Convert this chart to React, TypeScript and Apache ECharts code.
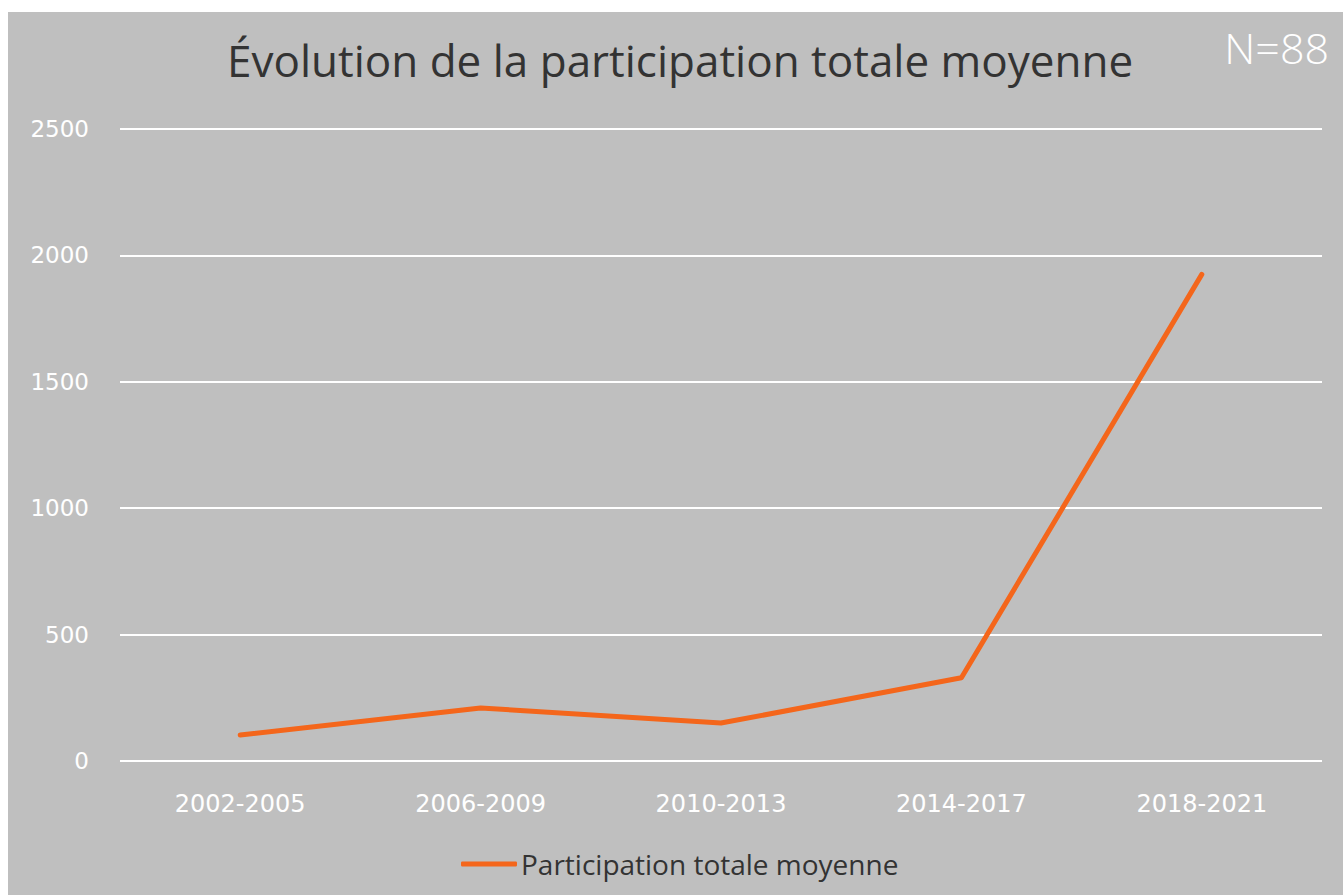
import React, { useEffect, useRef } from "react";
import * as echarts from "echarts";

const categories = ["2002-2005", "2006-2009", "2010-2013", "2014-2017", "2018-2021"];
const participation = [103, 210, 150, 329, 1925];
const seriesName = "Participation totale moyenne";
const titleText = "Évolution de la participation totale moyenne";
const noteText = "N=88";

export default function App() {
  const ref = useRef<HTMLDivElement>(null);
  useEffect(() => {
    if (!ref.current) return;
    const chart = echarts.init(ref.current, null, { renderer: "svg" });
    chart.setOption({
      animation: false,
      backgroundColor: "#bfbfbf",
      title: {
        text: titleText,
        left: 214,
        top: 21,
        textStyle: { fontFamily: "Open Sans", fontSize: 44, fontWeight: "normal", color: "#333333" },
      },
      graphic: [
        {
          type: "text",
          right: 14,
          top: 14,
          style: { text: noteText, fontFamily: "Open Sans", fontSize: 43, fontWeight: 300, fill: "#ffffff" },
        },
      ],
      legend: {
        data: [{ name: seriesName, icon: "roundRect" }],
        top: 833,
        left: 448,
        itemWidth: 56,
        itemHeight: 5,
        itemStyle: { color: "#f4661b" },
        textStyle: { fontFamily: "Open Sans", fontSize: 28, color: "#333333", padding: [0, 0, 0, -1] },
      },
      grid: { left: 112, right: 21, top: 117, bottom: 134 },
      xAxis: {
        type: "category",
        data: categories,
        axisLine: { show: false },
        axisTick: { show: false },
        axisLabel: { color: "#ffffff", fontFamily: "DejaVu Sans", fontSize: 24, margin: 31 },
      },
      yAxis: {
        type: "value",
        min: 0,
        max: 2500,
        interval: 500,
        axisLine: { show: false },
        axisTick: { show: false },
        axisLabel: {
          color: "#ffffff",
          fontFamily: "DejaVu Sans",
          fontSize: 23,
          margin: 31,
          formatter: (v: number) => String(v),
        },
        splitLine: { lineStyle: { color: "#ffffff", width: 2 } },
      },
      series: [
        {
          name: seriesName,
          type: "line",
          data: participation,
          symbol: "none",
          lineStyle: { color: "#f4661b", width: 5, cap: "round", join: "round" },
          itemStyle: { color: "#f4661b" },
        },
      ],
    });
    return () => chart.dispose();
  }, []);
  return (
    <div
      ref={ref}
      style={{ position: "absolute", left: 8, top: 12, width: 1335, height: 883 }}
    />
  );
}
